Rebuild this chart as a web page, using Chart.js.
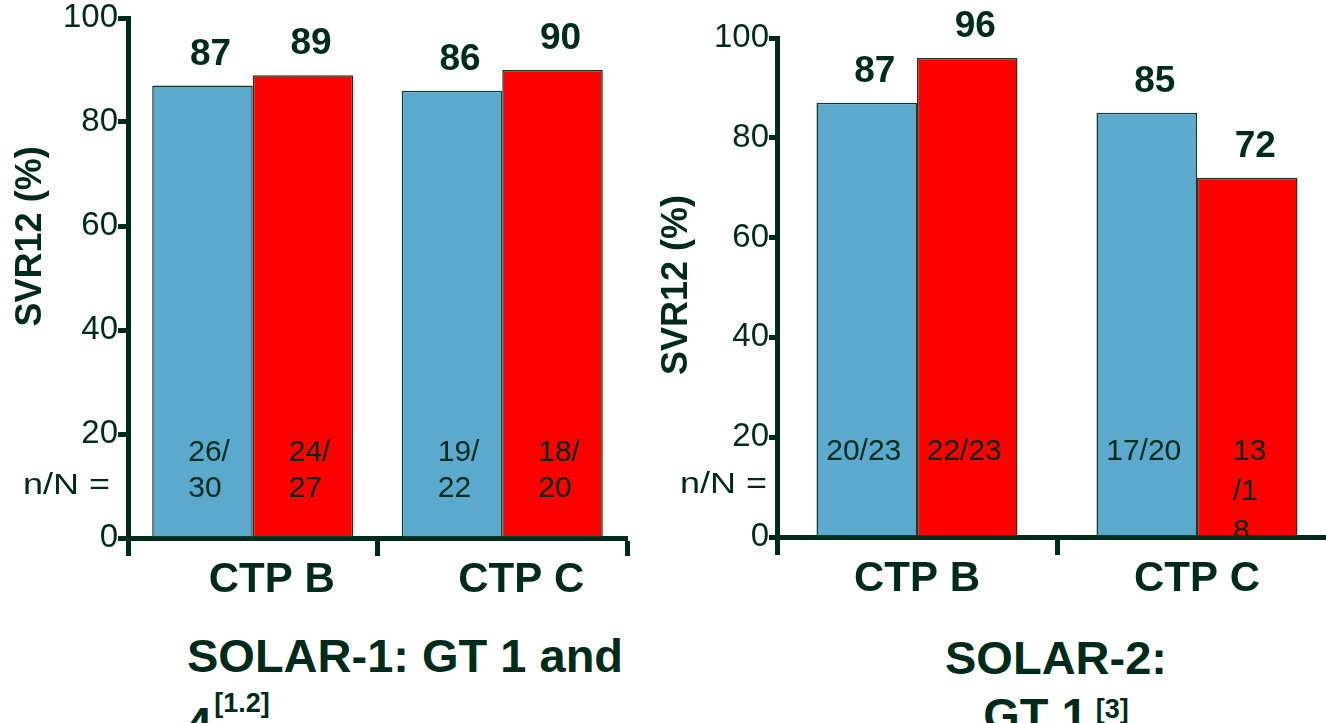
<!DOCTYPE html>
<html>
<head>
<meta charset="utf-8">
<title>SVR12 by CTP class — SOLAR-1 and SOLAR-2</title>
<script src="https://cdn.jsdelivr.net/npm/chart.js@4.4.1/dist/chart.umd.min.js"></script>
<style>
  html, body { margin: 0; padding: 0; background: #fff; overflow: hidden; width: 1326px; height: 723px; }
  #wrap { position: relative; width: 1326px; height: 723px; overflow: hidden;
          font-family: "Liberation Sans", Arial, sans-serif; color: #002a1a; }
  canvas { position: absolute; top: 0; }
  #solar1 { left: 0; }
  #solar2 { left: 660px; }
  .ttl { position: absolute; font-weight: bold; font-size: 47px; line-height: 47px; white-space: nowrap; }
  .ttl sup { font-size: 27px; position: relative; vertical-align: baseline; }
</style>
</head>
<body>
<div id="wrap">
  <canvas id="solar1" width="660" height="600"></canvas>
  <canvas id="solar2" width="700" height="600"></canvas>
  <div class="ttl" style="left:187px; top:632px;">SOLAR-1: GT 1 and</div>
  <div class="ttl" style="left:186px; top:700px;">4<sup style="top:-28px; margin-left:2px;">[1.2]</sup></div>
  <div class="ttl" style="left:856px; width:400px; text-align:center; top:634px;">SOLAR-2:</div>
  <div class="ttl" style="left:856px; width:400px; text-align:center; top:691px;">GT 1<sup style="top:-13px; margin-left:8px;">[3]</sup></div>
</div>
<script>
// Categories and y-axis tick values
const categories = ['CTP B', 'CTP C'];
const yTickValues = [0, 20, 40, 60, 80, 100];

// SOLAR-1 (GT 1 and 4): SVR12 % per arm, with n/N written inside each bar
const solar1ArmA = [87, 86];
const solar1ArmB = [89, 90];
const solar1CountsA = [['26/', '30'], ['19/', '22']];
const solar1CountsB = [['24/', '27'], ['18/', '20']];

// SOLAR-2 (GT 1)
const solar2ArmA = [87, 85];
const solar2ArmB = [96, 72];
const solar2CountsA = [['20/23'], ['17/20']];
const solar2CountsB = [['22/23'], ['13', '/1', '8']];

const INK = '#002a1a';
const BLUE = '#5baace';
const RED = '#ff0000';
const EDGE = '#123a2b';
const FAMILY = '"Liberation Sans", Arial, sans-serif';

Chart.defaults.font.family = FAMILY;
Chart.defaults.color = INK;

// Value labels, n/N counts, the "n/N =" prefix and the rotated y caption
const annotate = {
  id: 'annotate',
  afterDatasetsDraw(chart, args, o) {
    const { ctx, chartArea } = chart;
    const base = chart.scales.y.getPixelForValue(0);
    ctx.save();
    ctx.fillStyle = INK;

    chart.data.datasets.forEach((ds, di) => {
      chart.getDatasetMeta(di).data.forEach((bar, i) => {
        ctx.font = 'bold 37px ' + FAMILY;
        ctx.textAlign = 'center';
        ctx.textBaseline = 'alphabetic';
        ctx.fillText(String(ds.data[i]), bar.x + o.valueDx, bar.y - o.valueGap);

        const lines = ds.counts[i];
        ctx.save();
        ctx.beginPath();
        ctx.rect(chartArea.left, chartArea.top, chartArea.width, chartArea.height);
        ctx.clip();
        ctx.font = '30px ' + FAMILY;
        ctx.textBaseline = 'middle';
        let x;
        if (lines.length > 1) {
          ctx.textAlign = 'left';
          x = bar.x - bar.width / 2 + 36;
        } else {
          ctx.textAlign = 'center';
          x = bar.x - 3;
        }
        lines.forEach((t, k) => ctx.fillText(t, x, base - 85 + k * o.lineGap));
        ctx.restore();
      });
    });

    // "n/N =" row label, slightly widened
    ctx.save();
    ctx.font = '30px ' + FAMILY;
    ctx.textAlign = 'right';
    ctx.textBaseline = 'middle';
    ctx.translate(chartArea.left - o.prefixGap, base - 52);
    ctx.scale(1.2, 1);
    ctx.fillText('n/N =', 0, 0);
    ctx.restore();

    // y-axis caption
    ctx.save();
    ctx.translate(chartArea.left - o.captionDx, chartArea.top + o.captionFy * chartArea.height);
    ctx.rotate(-Math.PI / 2);
    ctx.font = 'bold 36px ' + FAMILY;
    ctx.textAlign = 'center';
    ctx.textBaseline = 'middle';
    ctx.fillText('SVR12 (%)', 0, 0);
    ctx.restore();

    ctx.restore();
  }
};

function makeChart(id, armA, armB, countsA, countsB, o) {
  return new Chart(document.getElementById(id), {
    type: 'bar',
    data: {
      labels: categories,
      datasets: [
        { label: 'Arm A', data: armA, counts: countsA, backgroundColor: BLUE,
          borderColor: EDGE, borderWidth: 1.5, borderSkipped: false },
        { label: 'Arm B', data: armB, counts: countsB, backgroundColor: RED,
          borderColor: EDGE, borderWidth: 1.5, borderSkipped: false }
      ]
    },
    options: {
      responsive: false,
      animation: false,
      events: [],
      layout: { padding: { top: o.top, right: o.right, left: 0, bottom: 0 } },
      datasets: { bar: { categoryPercentage: o.catPct, barPercentage: 1 } },
      plugins: {
        legend: { display: false },
        tooltip: { enabled: false },
        annotate: {
          valueDx: 8, valueGap: 21, lineGap: o.lineGap,
          prefixGap: o.prefixGap, captionDx: o.captionDx, captionFy: o.captionFy
        }
      },
      scales: {
        x: {
          z: 1,
          offset: true,
          afterFit: s => { s.height = o.xHeight; },
          grid: { offset: true, drawOnChartArea: false, drawTicks: true,
                  tickLength: 18, tickWidth: 5, tickColor: INK },
          border: { display: true, color: INK, width: 5 },
          ticks: { color: INK, font: { size: 42, weight: 'bold', lineHeight: 1 },
                   padding: 3, labelOffset: o.labelOffset, maxRotation: 0, autoSkip: false }
        },
        y: {
          min: 0,
          max: 100,
          afterFit: s => { s.width = o.yWidth; },
          afterBuildTicks: s => { s.ticks = yTickValues.map(v => ({ value: v })); },
          grid: { drawOnChartArea: false, drawTicks: true,
                  tickLength: o.tickLen, tickWidth: 5, tickColor: INK },
          border: { display: true, color: INK, width: 5 },
          ticks: { color: INK, font: { size: 33, lineHeight: 1 }, padding: 0 }
        }
      }
    },
    plugins: [annotate]
  });
}

makeChart('solar1', solar1ArmA, solar1ArmB, solar1CountsA, solar1CountsB, {
  top: 18, right: 33, yWidth: 128, xHeight: 62, catPct: 0.806, tickLen: 10,
  labelOffset: 19, lineGap: 36, prefixGap: 18, captionDx: 97, captionFy: 0.42
});

makeChart('solar2', solar2ArmA, solar2ArmB, solar2CountsA, solar2CountsB, {
  top: 38, right: 23, yWidth: 117, xHeight: 63, catPct: 0.718, tickLen: 8,
  labelOffset: 0, lineGap: 40, prefixGap: 10, captionDx: 100, captionFy: 0.495
});
</script>
</body>
</html>
